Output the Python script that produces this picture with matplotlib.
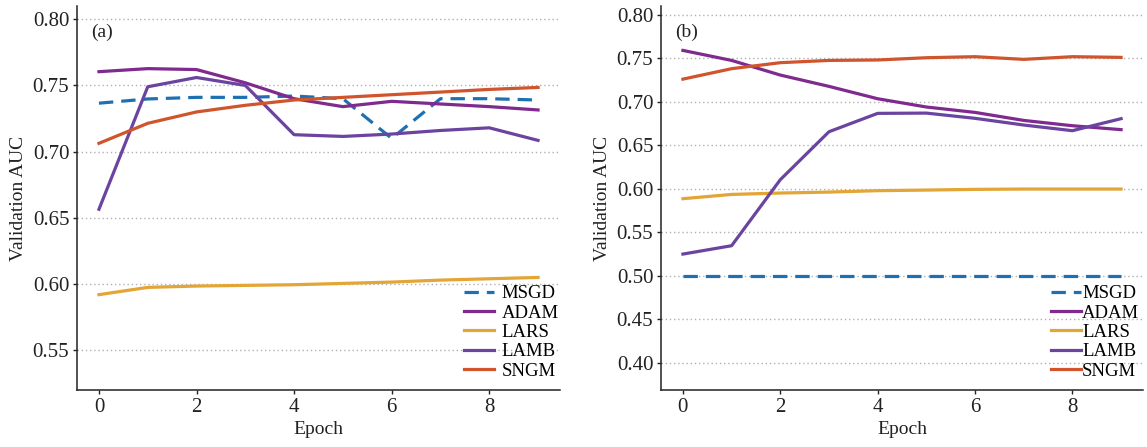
import matplotlib
matplotlib.use('Agg')
import matplotlib.pyplot as plt

plt.rcParams['font.family'] = ['Liberation Serif', 'DejaVu Serif']

epochs = list(range(10))
labels = ['MSGD', 'ADAM', 'LARS', 'LAMB', 'SNGM']
colors = ['#1f70b2', '#7e2a8e', '#e3a535', '#6b44a0', '#d0542c']

# panel (a)
a_msgd = [0.7366, 0.7398, 0.741, 0.741, 0.742, 0.740, 0.710, 0.740, 0.740, 0.739]
a_adam = [0.7604, 0.7627, 0.762, 0.752, 0.740, 0.734, 0.738, 0.736, 0.734, 0.7315]
a_lars = [0.592, 0.5975, 0.5985, 0.599, 0.5995, 0.6005, 0.6015, 0.603, 0.604, 0.605]
a_lamb = [0.6565, 0.749, 0.756, 0.750, 0.7128, 0.7115, 0.7133, 0.716, 0.718, 0.7085]
a_sngm = [0.7063, 0.7214, 0.730, 0.735, 0.739, 0.741, 0.743, 0.745, 0.747, 0.7485]

# panel (b)
b_msgd = [0.500] * 10
b_adam = [0.759, 0.7475, 0.7307, 0.7177, 0.7035, 0.694, 0.6878, 0.6786, 0.6725, 0.668]
b_lars = [0.5887, 0.5936, 0.5952, 0.5963, 0.5979, 0.5986, 0.5994, 0.5998, 0.5998, 0.5998]
b_lamb = [0.5251, 0.5347, 0.6105, 0.6656, 0.6867, 0.687, 0.681, 0.6733, 0.6668, 0.6806]
b_sngm = [0.726, 0.738, 0.7449, 0.7475, 0.748, 0.7506, 0.7518, 0.7487, 0.7518, 0.751]

a_ticks = [0.55, 0.60, 0.65, 0.70, 0.75, 0.80]
b_ticks = [0.40, 0.45, 0.50, 0.55, 0.60, 0.65, 0.70, 0.75, 0.80]

fig = plt.figure(figsize=(11.47, 4.47), dpi=100)
ax1 = fig.add_axes([77/1147, 57/447, 483/1147, 384/447])
ax2 = fig.add_axes([661/1147, 57/447, 482/1147, 384/447])

panels = [
    (ax1, [a_msgd, a_adam, a_lars, a_lamb, a_sngm], a_ticks, (0.52, 0.81), '(a)', 0.4, 1.005),
    (ax2, [b_msgd, b_adam, b_lars, b_lamb, b_sngm], b_ticks, (0.369, 0.81), '(b)', 0.05, 1.0),
]

for ax, series, yt, ylim, tag, pad, lx in panels:
    for vals, lab, c in zip(series, labels, colors):
        if lab == 'MSGD':
            ax.plot(epochs, vals, color=c, lw=2.3, ls=(0, (4.5, 2.5)), label=lab)
        else:
            ax.plot(epochs, vals, color=c, lw=2.3, label=lab)
    ax.set_xlim(-0.45, 9.45)
    ax.set_ylim(*ylim)
    ax.set_yticks(yt)
    ax.set_yticklabels(['%.2f' % v for v in yt])
    ax.set_xticks([0, 2, 4, 6, 8])
    ax.yaxis.grid(True, ls=(0, (1, 2)), color='#b0b0b0', lw=1.0)
    ax.set_axisbelow(True)
    for s in ['top', 'right']:
        ax.spines[s].set_visible(False)
    for s in ['left', 'bottom']:
        ax.spines[s].set_color('#222222')
        ax.spines[s].set_linewidth(1.1)
    ax.tick_params(axis='both', labelsize=15, colors='#222222', length=3, width=1, pad=2.5)
    ax.set_xlabel('Epoch', fontsize=14, color='#222222', labelpad=3)
    ax.set_ylabel('Validation AUC', fontsize=14, color='#222222', labelpad=4)
    ax.text(0.03, 0.955, tag, transform=ax.transAxes, fontsize=14, color='#222222', va='top')
    ax.legend(loc='lower right', bbox_to_anchor=(lx, 0.017), frameon=False, fontsize=13.5,
              handlelength=1.6, handletextpad=pad, labelspacing=0.12, borderaxespad=0,
              borderpad=0.2)

fig.savefig('out.png', dpi=100)
